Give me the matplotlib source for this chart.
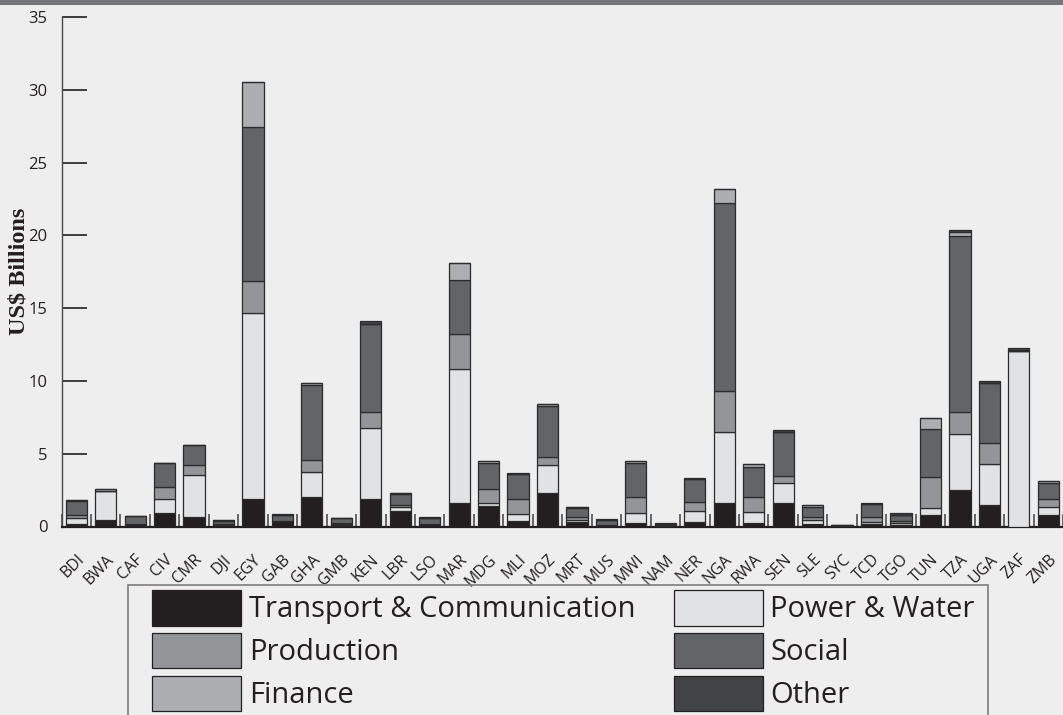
import matplotlib
matplotlib.use("Agg")
import matplotlib.pyplot as plt
from matplotlib.patches import Patch, Rectangle
import numpy as np

countries = ["BDI", "BWA", "CAF", "CIV", "CMR", "DJI", "EGY", "GAB", "GHA", "GMB",
             "KEN", "LBR", "LSO", "MAR", "MDG", "MLI", "MOZ", "MRT", "MUS", "MWI",
             "NAM", "NER", "NGA", "RWA", "SEN", "SLE", "SYC", "TCD", "TGO", "TUN",
             "TZA", "UGA", "ZAF", "ZMB"]

transport = [0.20, 0.45, 0.20, 0.90, 0.63, 0.10, 1.91, 0.35, 2.00, 0.10,
             1.91, 1.09, 0.15, 1.64, 1.41, 0.35, 2.32, 0.30, 0.10, 0.26,
             0.05, 0.31, 1.64, 0.26, 1.64, 0.17, 0.05, 0.17, 0.13, 0.81,
             2.50, 1.45, 0.00, 0.79]
power_water = [0.40, 2.00, 0.00, 0.97, 2.93, 0.10, 12.73, 0.00, 1.74, 0.05,
               4.88, 0.27, 0.00, 9.16, 0.18, 0.51, 1.90, 0.14, 0.00, 0.69,
               0.05, 0.78, 4.87, 0.71, 1.37, 0.28, 0.00, 0.16, 0.13, 0.48,
               3.83, 2.84, 12.05, 0.57]
production = [0.17, 0.00, 0.00, 0.87, 0.69, 0.00, 2.24, 0.00, 0.83, 0.10,
              1.05, 0.11, 0.00, 2.40, 1.01, 1.05, 0.58, 0.18, 0.00, 1.05,
              0.00, 0.61, 2.79, 1.08, 0.48, 0.18, 0.00, 0.35, 0.14, 2.13,
              1.51, 1.47, 0.00, 0.53]
social = [1.00, 0.00, 0.50, 1.60, 1.32, 0.20, 10.54, 0.45, 5.17, 0.30,
          6.10, 0.75, 0.45, 3.73, 1.79, 1.67, 3.48, 0.65, 0.35, 2.33,
          0.10, 1.54, 12.90, 2.01, 2.98, 0.73, 0.05, 0.84, 0.41, 3.25,
          12.11, 4.12, 0.00, 1.12]
finance = [0.03, 0.10, 0.00, 0.00, 0.00, 0.05, 3.13, 0.00, 0.14, 0.05,
           0.00, 0.10, 0.00, 1.19, 0.10, 0.00, 0.11, 0.07, 0.00, 0.17,
           0.00, 0.00, 0.96, 0.21, 0.00, 0.09, 0.00, 0.00, 0.00, 0.80,
           0.28, 0.00, 0.10, 0.12]
other = [0.00, 0.00, 0.05, 0.00, 0.00, 0.00, 0.00, 0.06, 0.00, 0.00,
         0.15, 0.00, 0.05, 0.00, 0.00, 0.07, 0.00, 0.00, 0.04, 0.00,
         0.02, 0.07, 0.00, 0.00, 0.16, 0.00, 0.00, 0.07, 0.09, 0.00,
         0.13, 0.13, 0.13, 0.00]

series_names = ["Transport & Communication", "Power & Water", "Production",
                "Social", "Finance", "Other"]
series_vals = [transport, power_water, production, social, finance, other]
series_colors = ["#231f20", "#e1e2e3", "#939598", "#636466", "#adaeb1", "#424345"]

yticks = [0, 5, 10, 15, 20, 25, 30, 35]

plt.rcParams["xtick.major.pad"] = 18
plt.rcParams["xtick.major.size"] = 0

W, H = 1063, 715
BG = "#eeeeee"
fig = plt.figure(figsize=(W / 100, H / 100), dpi=100, facecolor=BG)

# top grey band
fig.add_artist(Rectangle((0, 1 - 4.5 / H), 1, 4.5 / H, transform=fig.transFigure,
                         facecolor="#75767a", edgecolor="none"))

x0, xb, xt = 61.5, 526.5, 17.0
ax = fig.add_axes([x0 / W, (H - xb) / H, (W - x0) / W, (xb - xt) / H])
ax.set_facecolor(BG)

x = np.arange(len(countries))
bottom = np.zeros(len(countries))
handles = {}
for name, vals, col in zip(series_names, series_vals, series_colors):
    vals = np.array(vals)
    ax.bar(x, vals, width=0.72, bottom=bottom, color=col, edgecolor="#2b2b2b",
           linewidth=0.9, zorder=3)
    bottom += vals
    handles[name] = Patch(facecolor=col, edgecolor="#231f20", linewidth=0.9, label=name)

spacing = 29.54
ax.set_xlim(-0.5, -0.5 + (W - x0) / spacing)
ax.set_ylim(0, 35)

for s in ["top", "right"]:
    ax.spines[s].set_visible(False)
ax.spines["left"].set_color("#4a4a4a")
ax.spines["left"].set_linewidth(1.0)
ax.spines["bottom"].set_color("#231f20")
ax.spines["bottom"].set_linewidth(1.6)

ax.set_yticks(yticks)
ax.set_yticklabels([str(v) for v in yticks], family="Open Sans", fontsize=12, color="#231f20")
ax.tick_params(axis="y", direction="in", length=18, width=1.2, color="#231f20", pad=10)

ax.set_xticks(x)
ax.set_xticklabels(countries, rotation=45, ha="right", va="top",
                   rotation_mode="anchor", family="Open Sans", fontsize=11.5,
                   color="#231f20")
ax.set_xticks(np.arange(-0.5, len(countries), 1.0), minor=True)
ax.tick_params(axis="x", which="minor", direction="in", length=9.4, width=1.3,
               color="#5a5a5a")

ax.set_ylabel("US$ Billions", family="Liberation Serif", fontweight="bold",
              fontsize=17.5, color="#231f20")
ax.yaxis.set_label_coords((30 - x0) / (W - x0), 0.5)

# legend frame
fig.add_artist(Rectangle((127.5 / W, -6 / H), (988 - 127.5) / W, (H - 585 + 6) / H,
                         transform=fig.transFigure, fill=False,
                         edgecolor="#7d7d7d", linewidth=1.2))

order = ["Transport & Communication", "Production", "Finance",
         "Power & Water", "Social", "Other"]
fs = 21
fspx = fs * 100 / 72
leg = fig.legend(handles=[handles[n] for n in order], loc="upper left",
                 bbox_to_anchor=(152 / W, 1 - 590 / H), ncol=2,
                 prop={"family": "Open Sans", "size": fs}, frameon=False,
                 borderpad=0, borderaxespad=0,
                 handlelength=89 / fspx, handleheight=1.5,
                 handletextpad=8 / fspx, columnspacing=(673 - 635) / fspx,
                 labelspacing=0.25)
for t in leg.get_texts():
    t.set_color("#231f20")

fig.savefig("out.png", dpi=100, facecolor=BG)
